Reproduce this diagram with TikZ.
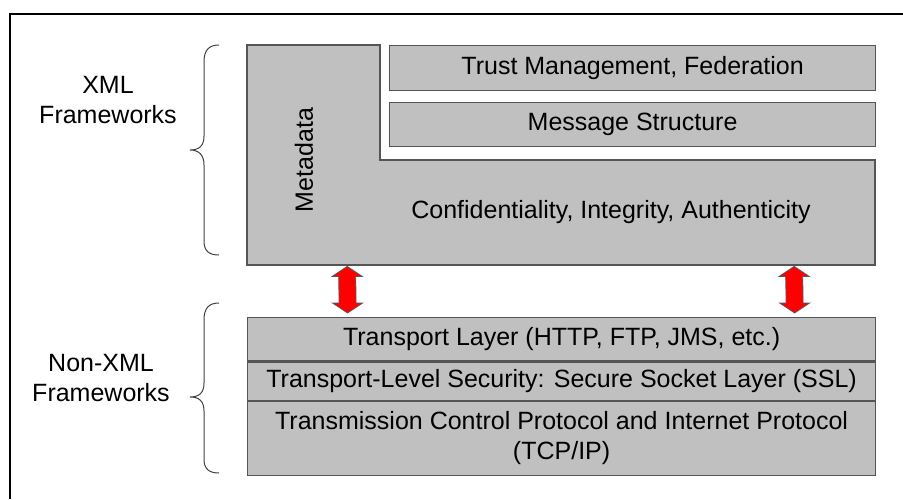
\documentclass[tikz,border=0pt]{standalone}
\usepackage{fontspec}
\setmainfont{Liberation Sans}
\usetikzlibrary{calc}
\definecolor{boxfill}{RGB}{192,192,192}
\definecolor{boxline}{RGB}{85,85,85}
\tikzset{
  layerbox/.style={draw=boxline, fill=boxfill, line width=1.2pt, inner sep=0pt,
    font=\fontsize{25}{30}\selectfont, align=center, anchor=north west},
  lshape/.style={draw=boxline, fill=boxfill, line width=1.2pt},
  lbl/.style={font=\fontsize{25}{30}\selectfont, align=center, inner sep=0pt},
  bracepath/.style={draw=black!75, line width=1pt},
  dblarrow/.style={fill=red, draw=black!65, line width=0.8pt, line join=miter},
  frameline/.style={line width=2.5pt}
}
\begin{document}
\begin{tikzpicture}[x=1pt,y=-1pt]
\useasboundingbox (0,0) rectangle (903,499);
% outer frame (open at right and bottom)
\draw[frameline] (10,499) -- (10,14) -- (903,14);

% XML stack: L-shaped block
\node[inner sep=0pt, minimum width=628, minimum height=220, anchor=north west] (xmlbox) at (247,45) {};
\draw[lshape] (247,45) -- (380,45) -- (380,160) -- (875,160) -- (875,265) -- (247,265) -- cycle;
\node[layerbox, minimum width=486, minimum height=45] (trust) at (389,45) {Trust Management, Federation};
\node[layerbox, minimum width=486, minimum height=44] (msg) at (389,102) {Message Structure};
\node[lbl, rotate=90] (meta) at (304,160) {Metadata};
\node[lbl] (conf) at (611,212) {Confidentiality, Integrity, Authenticity};

% non-XML stack
\node[layerbox, minimum width=628, minimum height=43.3] (tl) at (247,317) {Transport Layer (HTTP, FTP, JMS, etc.)};
\node[layerbox, minimum width=628, minimum height=38.3, anchor=north] (tls) at (tl.south) {Transport-Level Security: Secure Socket Layer (SSL)};
\node[layerbox, minimum width=628, minimum height=73.7, anchor=north] (tcp) at (tls.south) {Transmission Control Protocol and Internet Protocol\\(TCP/IP)};

% labels
\node[lbl] (xml) at (108,100) {XML\\Frameworks};
\node[lbl] (nonxml) at (101,378) {Non-XML\\Frameworks};

% braces
\draw[bracepath] (219,45) .. controls (209,45) and (204,50) .. (204,62) -- (204,136)
  .. controls (204,146) and (199,150) .. (190,150)
  .. controls (199,150) and (204,155) .. (204,165) -- (204,241)
  .. controls (204,251) and (209,255) .. (219,255);
\draw[bracepath] (219,303) .. controls (209,303) and (204,308) .. (204,320) -- (204,383)
  .. controls (204,393) and (199,397) .. (190,397)
  .. controls (199,397) and (204,401) .. (204,411) -- (204,459)
  .. controls (204,469) and (209,473) .. (219,473);

% double arrows between the stacks
\path (xmlbox.south) ++(-214,1) coordinate (a1t);
\path (tl.north) ++(-214,-4) coordinate (a1b);
\path (xmlbox.south) ++(233,1) coordinate (a2t);
\path (tl.north) ++(233,-4) coordinate (a2b);
\foreach \t/\b in {a1t/a1b, a2t/a2b}{
  \draw[dblarrow] (\t) -- ++(15,10) -- ++(-6.5,0) -- ($(\b)+(8.5,-10)$) -- ++(6.5,0)
    -- (\b) -- ++(-15,-10) -- ++(6.5,0) -- ($(\t)+(-8.5,10)$) -- ++(-6.5,0) -- cycle;
}
\end{tikzpicture}
\end{document}
